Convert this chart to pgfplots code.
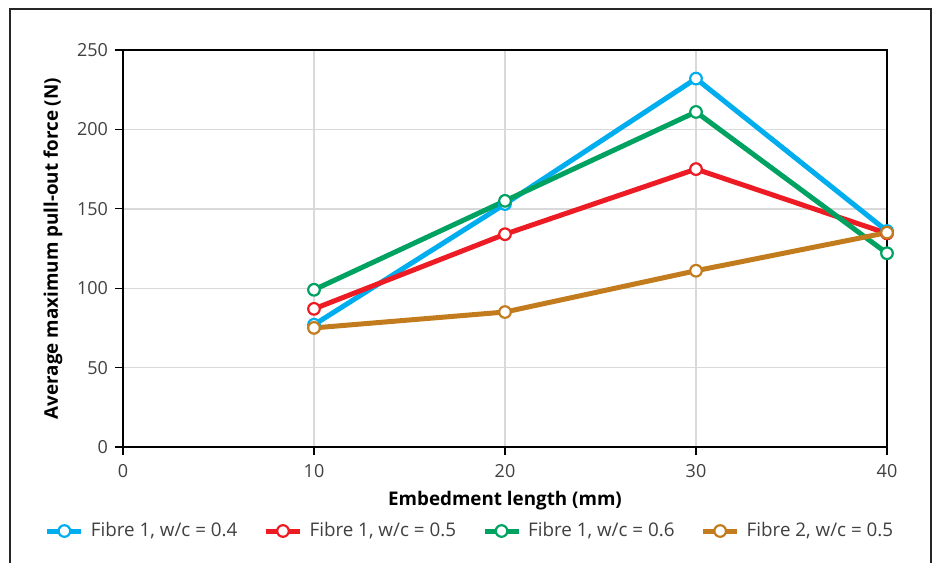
\documentclass[border=0pt]{standalone}
\usepackage{pgfplots}
\pgfplotsset{compat=1.18}
\usepackage{fontspec}
\setmainfont{Open Sans}
\definecolor{cblue}{HTML}{00AEEF}
\definecolor{cred}{HTML}{ED1C24}
\definecolor{cgreen}{HTML}{00A261}
\definecolor{cbrown}{HTML}{C27C1E}
\definecolor{tick}{HTML}{404040}
\begin{document}
\begin{tikzpicture}
\useasboundingbox (0pt,0pt) rectangle (468pt,-281pt);
\draw[line width=0.6pt,black!85] (5pt,-290pt) -- (5pt,-4.5pt) -- (465.5pt,-4.5pt) -- (465.5pt,-290pt);
\begin{axis}[
  at={(61.5pt,-223.5pt)}, anchor=south west,
  scale only axis, width=382pt, height=198.5pt,
  xmin=0, xmax=40, ymin=0, ymax=250,
  xtick={0,10,20,30,40}, ytick={0,50,100,150,200,250},
  tick align=outside, tick pos=left,
  major tick length=4pt,
  every tick/.style={black, line width=0.6pt},
  axis line style={black, line width=0.6pt},
  grid=major,
  major grid style={color=black!15, line width=0.7pt},
  /pgf/number format/assume math mode=true,
  ticklabel style={font=\fontsize{9}{10}\selectfont, text=tick},
  xticklabel style={yshift=-1pt},
  xlabel={\textbf{Embedment length (mm)}},
  ylabel={\textbf{Average maximum pull-out force (N)}},
  label style={font=\fontsize{9.4}{10}\selectfont},
  xlabel style={yshift=0pt},
  ylabel style={yshift=0.5pt},
  legend columns=-1,
  legend style={at={(0.4555,-0.2116)}, anchor=center, draw=none, fill=none,
    font=\fontsize{9.4}{10}\selectfont, text=tick,
    /tikz/every even column/.append style={column sep=11pt},
    /tikz/every odd column/.append style={column sep=1.5pt}},
  every axis plot/.append style={line width=2.5pt, mark=*, mark size=2.9pt},
]
\addplot[cblue, mark options={draw=cblue, fill=white, line width=1.1pt}] coordinates {(10,77) (20,153) (30,232) (40,136)};
\addlegendentry{Fibre 1, w/c = 0.4}
\addplot[cred, mark options={draw=cred, fill=white, line width=1.1pt}] coordinates {(10,87) (20,134) (30,175) (40,134.5)};
\addlegendentry{Fibre 1, w/c = 0.5}
\addplot[cgreen, mark options={draw=cgreen, fill=white, line width=1.1pt}] coordinates {(10,99) (20,155) (30,211) (40,122)};
\addlegendentry{Fibre 1, w/c = 0.6}
\addplot[cbrown, mark options={draw=cbrown, fill=white, line width=1.1pt}] coordinates {(10,75) (20,85) (30,111) (40,135)};
\addlegendentry{Fibre 2, w/c = 0.5}
\end{axis}
\end{tikzpicture}
\end{document}
